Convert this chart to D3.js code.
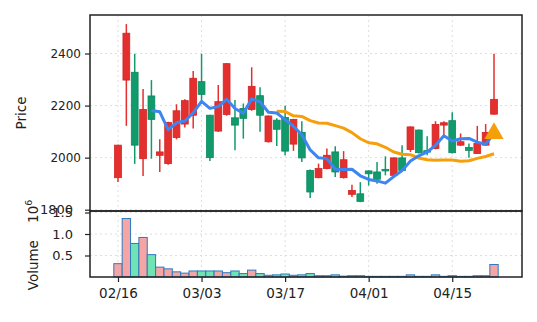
<!DOCTYPE html>
<html>
<head>
<meta charset="utf-8">
<script src="https://cdn.jsdelivr.net/npm/d3@7"></script>
<style>
  body { margin: 0; background: #fff; }
  text { font-family: "DejaVu Sans", sans-serif; }
</style>
</head>
<body>
<div id="container"></div>
<script>
// candle data (one entry per trading day)
const open  = [1923,2298,2328,1996,2237,2009,1977,2077,2129,2163,2292,2163,2102,2166,2153,2189,2185,2238,2061,2144,
               2154,2052,2097,1951,1923,1958,2022,1923,1859,1861,1949,1945,1955,1932,1999,2031,2106,2027,2035,2125,
               2142,2048,2039,2016,2048,2167];
const high  = [2050,2513,2399,2264,2298,2071,2138,2205,2224,2333,2399,2165,2279,2363,2221,2208,2347,2270,2162,2151,
               2199,2149,2140,1954,1977,2035,2044,2025,1896,1906,1951,1983,2005,2001,2048,2120,2108,2082,2140,2140,
               2174,2093,2054,2122,2129,2399];
const low   = [1906,2122,1976,1929,1996,1945,1973,2070,2116,2112,2221,1987,2099,2161,2028,2073,2180,2099,2058,2045,
               2009,2026,1983,1845,1921,1955,1926,1920,1849,1829,1893,1900,1932,1930,1945,2022,2016,2009,2032,2086,
               2016,2045,2000,2014,2045,2165];
const close = [2048,2478,2048,2185,2147,2022,2135,2180,2219,2305,2243,2000,2215,2361,2125,2151,2274,2163,2160,2109,
               2025,2147,1999,1868,1958,2009,1945,1992,1874,1832,1938,1917,1949,1999,1951,2118,2019,2022,2127,2134,
               2019,2061,2028,2054,2097,2224];
// volume in millions
const volume = [0.31,1.36,0.78,0.92,0.52,0.23,0.19,0.12,0.09,0.14,0.14,0.14,0.14,0.10,0.14,0.08,0.16,0.08,0.04,0.05,
                0.07,0.04,0.05,0.08,0.03,0.03,0.05,0.02,0.03,0.03,0.015,0.015,0.015,0.015,0.015,0.05,0.015,0.015,0.05,0.015,
                0.03,0.015,0.015,0.03,0.03,0.29];
// buy signal marker
const signalIdx = [45];
const signalPrice = [2093];

const xTickIdx = [0, 10, 20, 30, 40];
const xTickLabels = ["02/16", "03/03", "03/17", "04/01", "04/15"];
const priceTicks = [1800, 2000, 2200, 2400];
const volTicks = [0.5, 1.0, 1.5];

const width = 537, height = 322;
const pLeft = 90, pRight = 522, pTop = 15, pMid = 211, pBottom = 277;

const upColor = "#e3302f", upEdge = "#d42323";
const downColor = "#119a6c", downEdge = "#0b8a5d";

// moving average of the close
function movingAvg(n) {
  return close.map((c, i) => i < n - 1 ? null : d3.mean(close.slice(i - n + 1, i + 1)));
}
const ma5 = movingAvg(5);
const ma20 = movingAvg(20);

const x = d3.scaleLinear().domain([-3.35, 48.35]).range([pLeft, pRight]);
const yP = d3.scaleLinear().domain([1795, 2548]).range([pMid, pTop]);
const yV = d3.scaleLinear().domain([0, 1.535]).range([pBottom, pMid]);
const step = x(1) - x(0);

const svg = d3.select("#container").append("svg")
    .attr("width", width)
    .attr("height", height)
    .style("display", "block");

svg.append("rect").attr("width", width).attr("height", height).attr("fill", "#fff");

// grid
const grid = svg.append("g")
    .attr("stroke", "#dedede")
    .attr("stroke-width", 1)
    .attr("stroke-dasharray", "2,3");

grid.selectAll(".gx").data(xTickIdx).join("line")
    .attr("x1", d => x(d)).attr("x2", d => x(d))
    .attr("y1", pTop).attr("y2", pBottom);
grid.selectAll(".gp").data(priceTicks).join("line")
    .attr("x1", pLeft).attr("x2", pRight)
    .attr("y1", d => yP(d)).attr("y2", d => yP(d));
grid.selectAll(".gv").data(volTicks).join("line")
    .attr("x1", pLeft).attr("x2", pRight)
    .attr("y1", d => yV(d)).attr("y2", d => yV(d));

// volume bars
svg.append("g").selectAll("rect").data(volume).join("rect")
    .attr("x", (d, i) => x(i) - step / 2)
    .attr("width", step)
    .attr("y", d => yV(d))
    .attr("height", d => pBottom - yV(d))
    .attr("fill", (d, i) => close[i] >= open[i] ? "#f6a5a5" : "#70e3b5")
    .attr("stroke", "#2b7bbf")
    .attr("stroke-width", 1);

// candles
const candles = svg.append("g").selectAll("g").data(close).join("g");

candles.append("line")
    .attr("x1", (d, i) => x(i)).attr("x2", (d, i) => x(i))
    .attr("y1", (d, i) => yP(high[i]))
    .attr("y2", (d, i) => yP(low[i]))
    .attr("stroke", (d, i) => d >= open[i] ? upColor : downColor)
    .attr("stroke-width", 1.5);

candles.append("rect")
    .attr("x", (d, i) => x(i) - 3.4)
    .attr("width", 6.8)
    .attr("y", (d, i) => yP(Math.max(d, open[i])))
    .attr("height", (d, i) => Math.max(1.5, Math.abs(yP(d) - yP(open[i]))))
    .attr("fill", (d, i) => d >= open[i] ? upColor : downColor)
    .attr("stroke", (d, i) => d >= open[i] ? upEdge : downEdge)
    .attr("stroke-width", 0.8);

// moving averages
const line = d3.line()
    .defined(d => d != null)
    .x((d, i) => x(i))
    .y(d => yP(d));

svg.append("path").datum(ma20)
    .attr("d", line)
    .attr("fill", "none")
    .attr("stroke", "#f59f0b")
    .attr("stroke-width", 3)
    .attr("stroke-linejoin", "round");

svg.append("path").datum(ma5)
    .attr("d", line)
    .attr("fill", "none")
    .attr("stroke", "#3d86f2")
    .attr("stroke-width", 3)
    .attr("stroke-linejoin", "round");

// signal marker
svg.append("g").selectAll("path").data(signalIdx).join("path")
    .attr("transform", (d, i) => `translate(${x(d)},${yP(signalPrice[i])})`)
    .attr("d", d3.symbol(d3.symbolTriangle, 160))
    .attr("fill", "#f5a00b");

// panel frames
svg.append("rect")
    .attr("x", pLeft).attr("y", pTop)
    .attr("width", pRight - pLeft).attr("height", pMid - pTop)
    .attr("fill", "none").attr("stroke", "#222").attr("stroke-width", 1.5);
svg.append("rect")
    .attr("x", pLeft).attr("y", pMid)
    .attr("width", pRight - pLeft).attr("height", pBottom - pMid)
    .attr("fill", "none").attr("stroke", "#222").attr("stroke-width", 1.5);

// axes
function styleAxis(size) {
  return g => {
    g.select(".domain").remove();
    g.selectAll(".tick line").attr("stroke", "#222").attr("stroke-width", 1.2);
    g.selectAll(".tick text").attr("fill", "#222").attr("font-size", size);
  };
}

svg.append("g")
    .attr("transform", `translate(${pLeft},0)`)
    .call(d3.axisLeft(yP).tickValues(priceTicks.slice(1)).tickFormat(d3.format("d")).tickSize(5).tickPadding(4))
    .call(styleAxis(12));

// the bottom price label sits further left, under the volume 1.5 label
svg.append("g")
    .attr("transform", `translate(${pLeft},0)`)
    .call(d3.axisLeft(yP).tickValues(priceTicks.slice(0, 1)).tickFormat(d3.format("d")).tickSize(5).tickPadding(12))
    .call(styleAxis(13));

svg.append("g")
    .attr("transform", `translate(${pLeft},0)`)
    .call(d3.axisLeft(yV).tickValues(volTicks).tickFormat(d3.format(".1f")).tickSize(5).tickPadding(12))
    .call(styleAxis(13));

svg.append("g")
    .attr("transform", `translate(0,${pBottom})`)
    .call(d3.axisBottom(x).tickValues(xTickIdx).tickFormat((d, i) => xTickLabels[i]).tickSize(5).tickPadding(6))
    .call(styleAxis(13.5));

// axis titles
svg.append("text")
    .attr("transform", `translate(26,${(pTop + pMid) / 2}) rotate(-90)`)
    .attr("text-anchor", "middle")
    .attr("font-size", 13.5)
    .attr("fill", "#222")
    .text("Price");

const vl = svg.append("text")
    .attr("transform", `translate(38,${(pMid + pBottom) / 2 + 1}) rotate(-90)`)
    .attr("text-anchor", "middle")
    .attr("font-size", 13.5)
    .attr("fill", "#222")
    .style("white-space", "pre");
vl.append("tspan").text("Volume    10");
vl.append("tspan").attr("dy", -6).attr("font-size", 9.5).text("6");
</script>
</body>
</html>
